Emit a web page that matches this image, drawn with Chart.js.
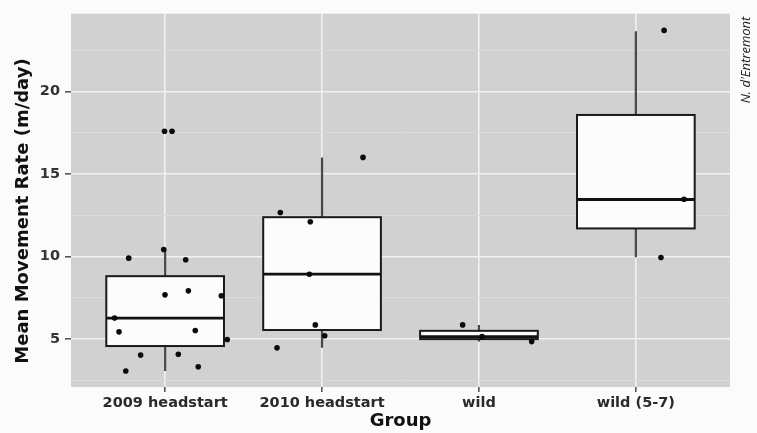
<!DOCTYPE html>
<html>
<head>
<meta charset="utf-8">
<script src="https://cdn.jsdelivr.net/npm/chart.js@4/dist/chart.umd.min.js"></script>
<style>
  html, body { margin: 0; padding: 0; background: #fbfbfb; }
  #wrap { width: 757px; height: 433px; }
</style>
</head>
<body>
<div id="wrap"><canvas id="c" width="757" height="433"></canvas></div>
<script>
// Groups on the x axis
const categories = ['2009 headstart', '2010 headstart', 'wild', 'wild (5-7)'];

// Box-and-whisker summaries per group (m/day)
const whiskerLow  = [3.07, 4.47, 4.85, 9.95];
const lowerQuart  = [4.58, 5.55, 5.00, 11.70];
const medians     = [6.27, 8.93, 5.15, 13.45];
const upperQuart  = [8.81, 12.38, 5.50, 18.57];
const whiskerHigh = [10.42, 16.00, 5.86, 23.63];

// Individual animals: group number (1-4, jittered sideways) and rate
const pointGroup = [0.996, 1.044, 0.768, 0.991, 1.131, 0.999, 1.148, 1.358, 0.678, 0.706, 1.192, 1.396, 0.844, 1.084, 0.749, 1.211,
                    1.734, 1.925, 1.919, 1.957, 2.017, 1.713, 2.261,
                    2.896, 3.020, 3.336,
                    4.180, 4.307, 4.160];
const pointRate  = [17.58, 17.58, 9.90, 10.42, 9.80, 7.68, 7.92, 7.62, 6.27, 5.44, 5.52, 4.98, 4.03, 4.08, 3.07, 3.33,
                    12.66, 12.10, 8.93, 5.86, 5.20, 4.47, 16.00,
                    5.86, 5.15, 4.85,
                    23.69, 13.47, 9.94];

const yMajorTicks = [5, 10, 15, 20];
const yTitle = 'Mean Movement Rate (m/day)';
const credit = "N. d'Entremont";

const AXIS_FONT = 'DejaVu Sans';

// Grey panel behind the grid
const panelPlugin = {
  id: 'panel',
  beforeDraw(chart) {
    const { ctx, chartArea: a } = chart;
    ctx.save();
    ctx.fillStyle = '#fbfbfb';
    ctx.fillRect(0, 0, chart.width, chart.height);
    ctx.fillStyle = '#d1d1d1';
    ctx.fillRect(a.left, a.top, a.right - a.left, a.bottom - a.top);
    ctx.restore();
  }
};

// Boxplots drawn under the jittered points
const boxPlugin = {
  id: 'boxes',
  beforeDatasetsDraw(chart) {
    const { ctx, chartArea: a } = chart;
    const xs = chart.scales.x, ys = chart.scales.y;
    ctx.save();
    ctx.beginPath();
    ctx.rect(a.left, a.top, a.right - a.left, a.bottom - a.top);
    ctx.clip();
    categories.forEach((_, i) => {
      const cx = xs.getPixelForValue(i + 1);
      const x0 = xs.getPixelForValue(i + 1 - 0.375);
      const x1 = xs.getPixelForValue(i + 1 + 0.375);
      const yLo = ys.getPixelForValue(whiskerLow[i]);
      const yQ1 = ys.getPixelForValue(lowerQuart[i]);
      const yMd = ys.getPixelForValue(medians[i]);
      const yQ3 = ys.getPixelForValue(upperQuart[i]);
      const yHi = ys.getPixelForValue(whiskerHigh[i]);

      ctx.strokeStyle = '#474747';
      ctx.lineWidth = 2.2;
      ctx.beginPath();
      ctx.moveTo(cx, yQ3); ctx.lineTo(cx, yHi);
      ctx.moveTo(cx, yQ1); ctx.lineTo(cx, yLo);
      ctx.stroke();

      ctx.fillStyle = '#fcfcfc';
      ctx.fillRect(x0, yQ3, x1 - x0, yQ1 - yQ3);
      ctx.strokeStyle = '#1a1a1a';
      ctx.lineWidth = 2;
      ctx.strokeRect(x0, yQ3, x1 - x0, yQ1 - yQ3);

      ctx.lineWidth = 2.8;
      ctx.strokeStyle = '#111';
      ctx.beginPath();
      ctx.moveTo(x0, yMd); ctx.lineTo(x1, yMd);
      ctx.stroke();
    });
    ctx.restore();
  }
};

// Rotated y-axis title and the photographer credit along the right edge
const textPlugin = {
  id: 'sideText',
  afterDraw(chart) {
    const { ctx } = chart;
    ctx.save();
    ctx.translate(23, 211);
    ctx.rotate(-Math.PI / 2);
    ctx.font = 'bold 18px "' + AXIS_FONT + '"';
    ctx.fillStyle = '#111';
    ctx.textAlign = 'center';
    ctx.textBaseline = 'middle';
    ctx.fillText(yTitle, 0, 0);
    ctx.restore();

    ctx.save();
    ctx.translate(746, 60);
    ctx.rotate(-Math.PI / 2);
    ctx.font = 'italic 13px "Open Sans"';
    ctx.fillStyle = '#222';
    ctx.textAlign = 'center';
    ctx.textBaseline = 'middle';
    ctx.fillText(credit, 0, 0);
    ctx.restore();
  }
};

const isMajor = v => yMajorTicks.some(t => Math.abs(t - v) < 1e-6);

new Chart(document.getElementById('c'), {
  type: 'scatter',
  data: {
    datasets: [{
      data: pointGroup.map((g, i) => ({ x: g, y: pointRate[i] })),
      backgroundColor: '#0a0a0a',
      borderColor: '#0a0a0a',
      pointRadius: 2.8,
      pointBorderWidth: 0
    }]
  },
  plugins: [panelPlugin, boxPlugin, textPlugin],
  options: {
    responsive: false,
    animation: false,
    events: [],
    layout: { padding: { top: 13, right: 27, left: 0, bottom: 0 } },
    plugins: { legend: { display: false }, tooltip: { enabled: false } },
    scales: {
      x: {
        type: 'linear',
        min: 0.4,
        max: 4.6,
        afterFit(scale) { scale.height = 46; },
        border: { display: false },
        grid: {
          color: '#f2f2f2',
          lineWidth: 1.6,
          drawTicks: true,
          tickLength: 5,
          tickColor: '#555'
        },
        ticks: {
          stepSize: 1,
          includeBounds: false,
          autoSkip: false,
          maxRotation: 0,
          padding: 3,
          color: '#2a2a2a',
          font: { family: AXIS_FONT, weight: 'bold', size: 14.5 },
          callback: v => categories[Math.round(v) - 1] || ''
        },
        title: {
          display: true,
          text: 'Group',
          color: '#111',
          font: { family: AXIS_FONT, weight: 'bold', size: 18 },
          padding: { top: 0, bottom: 1 }
        }
      },
      y: {
        type: 'linear',
        min: 2.1,
        max: 24.7,
        afterFit(scale) { scale.width = 71; },
        border: { display: false },
        grid: {
          color: c => isMajor(c.tick.value) ? '#f2f2f2' : '#dbdbdb',
          lineWidth: c => isMajor(c.tick.value) ? 1.6 : 1,
          drawTicks: true,
          tickLength: 6,
          tickColor: c => isMajor(c.tick.value) ? '#555' : 'rgba(0,0,0,0)'
        },
        ticks: {
          stepSize: 2.5,
          includeBounds: false,
          autoSkip: false,
          padding: 5,
          color: '#333',
          font: { family: AXIS_FONT, weight: 'bold', size: 14.5 },
          callback: v => isMajor(v) ? String(v) : ''
        },
        title: { display: false }
      }
    }
  }
});
</script>
</body>
</html>
